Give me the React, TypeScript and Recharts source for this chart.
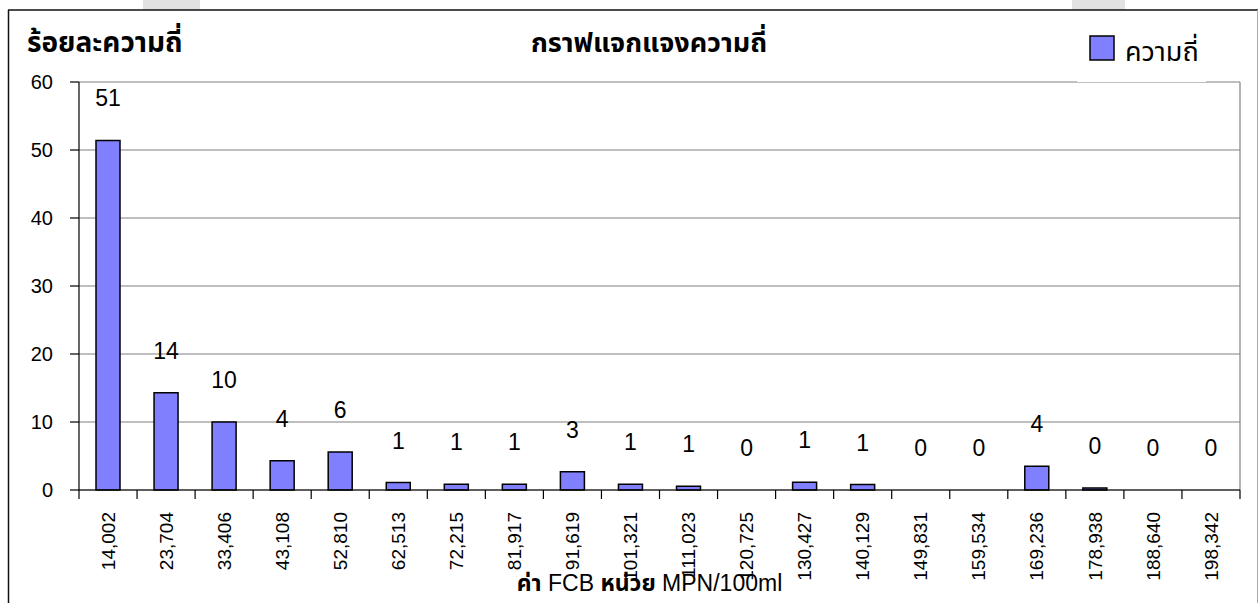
import { ComposedChart, Bar, Line, XAxis, YAxis, CartesianGrid, LabelList } from "recharts";

// bin lower bounds (FCB, MPN/100ml)
const categories = [
  "14,002", "23,704", "33,406", "43,108", "52,810", "62,513", "72,215",
  "81,917", "91,619", "101,321", "111,023", "120,725", "130,427", "140,129",
  "149,831", "159,534", "169,236", "178,938", "188,640", "198,342",
];

// percent of samples in each bin
const percents = [
  51.4, 14.3, 10.0, 4.3, 5.6, 1.1, 0.84, 0.84, 2.7, 0.84, 0.54, 0, 1.13, 0.8,
  0, 0, 3.5, 0.3, 0, 0,
];

const yTicks = [0, 10, 20, 30, 40, 50, 60];

const seriesName = "ความถี่";
const chartTitle = "กราฟแจกแจงความถี่";
const yTitle = "ร้อยละความถี่";

const data = categories.map((bin, i) => ({ bin, value: percents[i] }));

const FONT = '"Liberation Sans", Arial, sans-serif';
const THAI = 'Tahoma, "Noto Sans Thai", "Liberation Sans", sans-serif';

// tick marks sit on bin boundaries, labels at bin centres
const BinTick = ({ x, y, payload, index }: any) => {
  const half = payload?.offset ?? 29;
  const ty = y + 22;
  return (
    <g>
      <line x1={x - half} y1={y} x2={x - half} y2={y + 9} stroke="#000" strokeWidth={1.2} />
      {index === categories.length - 1 && (
        <line x1={x + half} y1={y} x2={x + half} y2={y + 9} stroke="#000" strokeWidth={1.2} />
      )}
      <text
        x={x}
        y={ty}
        dy="0.35em"
        transform={`rotate(-90 ${x} ${ty})`}
        textAnchor="end"
        fontSize={19}
        fontFamily={FONT}
        fill="#000"
      >
        {payload.value}
      </text>
    </g>
  );
};

const XTitle = ({ viewBox }: any) => {
  if (!viewBox) return null;
  const cx = viewBox.x + viewBox.width / 2 - 10;
  return (
    <text x={cx} y={viewBox.y + 101} textAnchor="middle" fontSize={23} fill="#000" fontFamily={THAI}>
      <tspan fontWeight="bold">ค่า</tspan>
      <tspan fontFamily={FONT}> FCB </tspan>
      <tspan fontWeight="bold">หน่วย</tspan>
      <tspan fontFamily={FONT}> MPN/100ml</tspan>
    </text>
  );
};

export default function App() {
  return (
    <div style={{ position: "relative", width: 1260, height: 603, overflow: "hidden", background: "#fff" }}>
      <style>{`body{margin:0}`}</style>
      <ComposedChart
        width={1260}
        height={603}
        data={data}
        margin={{ top: 82, right: 20, left: 0, bottom: 0 }}
      >
        <CartesianGrid
          stroke="#808080"
          strokeWidth={1.2}
          horizontal={true}
          vertical={true}
          verticalCoordinatesGenerator={({ offset }: any) => [offset.left + offset.width]}
        />
        <XAxis
          dataKey="bin"
          height={113}
          interval={0}
          tickLine={false}
          tickSize={0}
          tickMargin={0}
          axisLine={{ stroke: "#000", strokeWidth: 1.2 }}
          tick={<BinTick />}
          label={<XTitle />}
        />
        <YAxis
          width={79}
          domain={[0, 60]}
          ticks={yTicks}
          interval={0}
          tickSize={9}
          tickMargin={17}
          axisLine={{ stroke: "#000", strokeWidth: 1.2 }}
          tickLine={{ stroke: "#000", strokeWidth: 1.2 }}
          tick={{ fill: "#000", fontSize: 20, fontFamily: FONT }}
        />
        <Bar
          dataKey="value"
          name={seriesName}
          fill="#8080FF"
          stroke="#000"
          strokeWidth={1.5}
          barSize={24}
          isAnimationActive={false}
        />
        {/* carries the value labels, so empty bins get their "0" too */}
        <Line
          dataKey="value"
          stroke="none"
          dot={false}
          activeDot={false}
          legendType="none"
          isAnimationActive={false}
        >
          <LabelList
            dataKey="value"
            position="top"
            offset={34}
            formatter={(v: any) => Math.round(Number(v))}
            style={{ fill: "#000", fontSize: 23, fontFamily: FONT }}
          />
        </Line>
      </ComposedChart>

      {/* frame, titles and legend */}
      <svg
        width={1260}
        height={603}
        style={{ position: "absolute", left: 0, top: 0, pointerEvents: "none" }}
      >
        <rect x={143} y={0} width={57} height={10} fill="#e2e2e2" />
        <rect x={1072} y={0} width={53} height={10} fill="#e2e2e2" />
        <line x1={8} y1={10} x2={1258} y2={10} stroke="#111" strokeWidth={1.5} />
        <line x1={8.5} y1={10} x2={8.5} y2={603} stroke="#111" strokeWidth={1.5} />
        <line x1={1257.5} y1={10} x2={1257.5} y2={603} stroke="#aaa" strokeWidth={1} />

        <text x={27} y={52} fontSize={28} fontWeight="bold" fontFamily={THAI} fill="#000">
          {yTitle}
        </text>
        <text x={649} y={52} textAnchor="middle" fontSize={27} fontWeight="bold" fontFamily={THAI} fill="#000">
          {chartTitle}
        </text>

        <rect x={1077} y={22} width={129} height={60} fill="#fff" />
        <rect x={1090} y={36} width={24} height={24} fill="#8080FF" stroke="#000" strokeWidth={1.5} />
        <text x={1125} y={61} fontSize={27} fontFamily={THAI} fill="#000">
          {seriesName}
        </text>
      </svg>
    </div>
  );
}
